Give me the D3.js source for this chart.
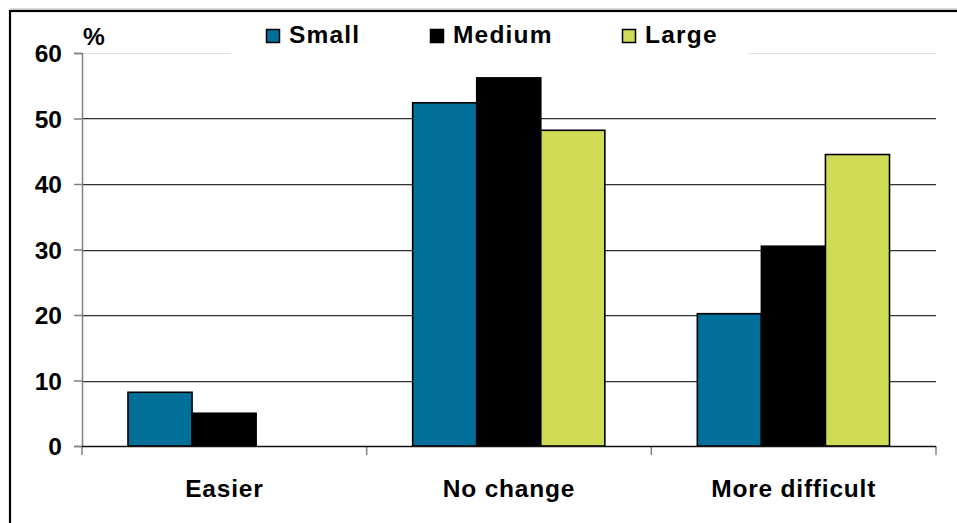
<!DOCTYPE html>
<html>
<head>
<meta charset="utf-8">
<script src="https://cdn.jsdelivr.net/npm/d3@7"></script>
<style>
  html, body { margin: 0; padding: 0; background: #fff; }
  svg { display: block; }
  text { font-family: "Liberation Sans", Arial, sans-serif; font-weight: bold; fill: #000; }
</style>
</head>
<body>
<svg id="chart" width="957" height="523"></svg>
<script>
const categories = ["Easier", "No change", "More difficult"];
const seriesNames = ["Small", "Medium", "Large"];
const small = [8.2, 52.4, 20.2];
const medium = [5.0, 56.2, 30.5];
const large = [0, 48.2, 44.5];
const yTicks = [0, 10, 20, 30, 40, 50, 60];
const colors = ["#00709b", "#000000", "#d0db55"];

const seriesValues = [small, medium, large];

const svg = d3.select("#chart");
const W = 957, H = 523;
const x0 = 82, x1 = 936;
const yTop = 53, yBot = 446;

// outer frame
svg.append("line").attr("x1", 10).attr("x2", W).attr("y1", 9).attr("y2", 9)
  .attr("stroke", "#bbb").attr("stroke-width", 1);
svg.append("rect").attr("x", 10).attr("y", 11).attr("width", 2000).attr("height", 2000)
  .attr("fill", "none").attr("stroke", "#000").attr("stroke-width", 2.2);

const x = d3.scaleBand().domain(categories).range([x0, x1]).padding(0);
const xs = d3.scaleBand().domain(seriesNames).range([46, x.bandwidth() - 46.5]).padding(0);
const y = d3.scaleLinear().domain([0, 60]).range([yBot, yTop]);

// gridlines
const grid = svg.append("g");
yTicks.filter(t => t > 0).forEach(t => {
  const yy = Math.round(y(t)) + 0.5;
  if (t === 60) {
    grid.append("line").attr("x1", x0).attr("x2", x1).attr("y1", yy).attr("y2", yy)
      .attr("stroke", "#e0e0e0").attr("stroke-width", 1);
  } else {
    grid.append("line").attr("x1", x0).attr("x2", x1).attr("y1", yy + 1).attr("y2", yy + 1)
      .attr("stroke", "#c8c8c8").attr("stroke-width", 1);
    grid.append("line").attr("x1", x0).attr("x2", x1).attr("y1", yy).attr("y2", yy)
      .attr("stroke", "#333").attr("stroke-width", 1.2);
  }
});

// bars
const groups = svg.append("g").selectAll("g").data(categories).join("g")
  .attr("transform", d => `translate(${x(d)},0)`);
groups.selectAll("rect")
  .data((c, ci) => seriesNames.map((s, si) => ({ s, si, v: seriesValues[si][ci] })).filter(d => d.v > 0))
  .join("rect")
  .attr("x", d => xs(d.s))
  .attr("width", xs.bandwidth())
  .attr("y", d => y(d.v))
  .attr("height", d => y(0) - y(d.v))
  .attr("fill", d => colors[d.si])
  .attr("stroke", "#000")
  .attr("stroke-width", 1.6);

// y axis
const yAxis = d3.axisLeft(y).tickValues(yTicks).tickSize(8).tickPadding(12).tickFormat(d3.format("d"));
const ya = svg.append("g").attr("transform", `translate(${x0},0)`).call(yAxis);
ya.select(".domain").attr("stroke", "#808080").attr("stroke-width", 1.5);
ya.selectAll(".tick line").attr("stroke", "#808080").attr("stroke-width", 1.5);
ya.selectAll(".tick text").attr("font-size", 24.5).attr("font-family", "Liberation Sans, Arial, sans-serif")
  .attr("font-weight", "bold").attr("fill", "#000").attr("dy", "0.36em");

// x axis
const xAxis = d3.axisBottom(x).tickSize(0).tickPadding(34);
const xa = svg.append("g").attr("transform", `translate(0,${yBot})`).call(xAxis);
xa.select(".domain").remove();
xa.selectAll(".tick text").attr("font-size", 24.5).attr("font-family", "Liberation Sans, Arial, sans-serif")
  .attr("font-weight", "bold").attr("fill", "#000").attr("letter-spacing", 0.8);
// boundary ticks
const bounds = categories.map(c => x(c)).concat([x1]);
svg.append("g").selectAll("line").data(bounds).join("line")
  .attr("x1", d => d).attr("x2", d => d).attr("y1", yBot).attr("y2", yBot + 9)
  .attr("stroke", "#808080").attr("stroke-width", 1.5);
svg.append("line").attr("x1", x0).attr("x2", x1).attr("y1", yBot + 0.5).attr("y2", yBot + 0.5)
  .attr("stroke", "#111").attr("stroke-width", 1.5);

// % label
svg.append("text").attr("x", 83).attr("y", 45).attr("font-size", 24.5).text("%");

// legend
svg.append("rect").attr("x", 231).attr("y", 14).attr("width", 517).attr("height", 44).attr("fill", "#fff");
const legX = [266, 430, 622];
const leg = svg.append("g").selectAll("g").data(seriesNames).join("g")
  .attr("transform", (d, i) => `translate(${legX[i]},0)`);
leg.append("rect").attr("x", 0.5).attr("y", 29.5).attr("width", 13).attr("height", 13)
  .attr("fill", (d, i) => colors[i]).attr("stroke", "#000").attr("stroke-width", 1.5);
leg.append("text").attr("x", 23).attr("y", 43).attr("font-size", 24.5).attr("letter-spacing", 1.2).text(d => d);
</script>
</body>
</html>
